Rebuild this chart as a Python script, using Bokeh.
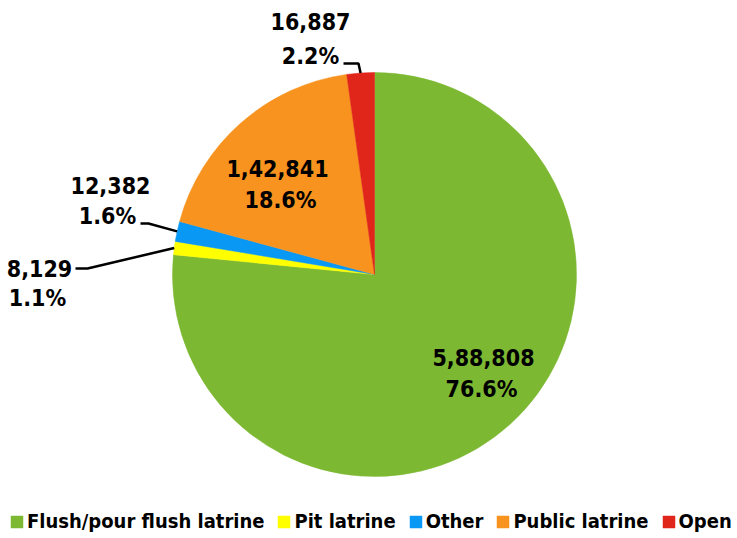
import math
from bokeh.plotting import figure
from bokeh.models import Range1d, Legend, LegendItem, ColumnDataSource
from bokeh.core.properties import value
from bokeh.embed import file_html
from bokeh.resources import INLINE

# ---- data ----
categories = ["Flush/pour flush latrine", "Pit latrine", "Other", "Public latrine", "Open"]
counts = [588808, 8129, 12382, 142841, 16887]
count_labels = ["5,88,808", "8,129", "12,382", "1,42,841", "16,887"]
pct_labels = ["76.6%", "1.1%", "1.6%", "18.6%", "2.2%"]
colors = ["#7DB833", "#FFFF00", "#0A98F5", "#F7931E", "#E0251B"]

# ---- layout (page pixels; y_data = H - y_px) ----
W, H = 737, 538
CX, CY, R = 374, 274, 202
FONT = "DejaVu Sans Condensed, Liberation Sans, sans-serif"
LBL_SIZE = "23px"
LEG_SIZE = "20px"

def py(ypx):
    return H - ypx

# label centres (page px) for line1 / line2, and leader elbow/end for outside labels
label_pos = {
    0: ((483, 357), (481, 388), None),
    3: ((277, 168), (280, 199), None),
    1: ((39, 268), (37, 297), ((87, 268), (75, 268))),
    2: ((110, 185), (107, 215), ((148, 223), (140, 223))),
    4: ((310, 21), (310, 55), ((358, 63), (343, 63))),
}

p = figure(width=W, height=H, output_backend="svg", toolbar_location=None,
           x_range=Range1d(0, W), y_range=Range1d(0, H),
           min_border=0)
p.axis.visible = False
p.grid.visible = False
p.outline_line_color = None
p.background_fill_color = "white"

total = sum(counts)
starts, ends, mids = [], [], []
cum = 0.0
for c in counts:
    f0 = cum / total
    cum += c
    f1 = cum / total
    # clockwise from 12 o'clock
    starts.append(math.pi / 2 - 2 * math.pi * f1)
    ends.append(math.pi / 2 - 2 * math.pi * f0)
    mids.append(math.pi / 2 - 2 * math.pi * (f0 + f1) / 2)

src = ColumnDataSource(dict(cat=categories, start=starts, end=ends, color=colors))
wr = p.wedge(x=CX, y=py(CY), radius=R, start_angle="start", end_angle="end",
             direction="anticlock", fill_color="color", line_color="color",
             line_width=0.5, source=src)

# labels and leader lines
xs1, ys1, t1, xs2, ys2, t2 = [], [], [], [], [], []
lx, ly = [], []
for i in range(len(counts)):
    (a1, a2, lead) = label_pos[i]
    xs1.append(a1[0]); ys1.append(py(a1[1])); t1.append(count_labels[i])
    xs2.append(a2[0]); ys2.append(py(a2[1])); t2.append(pct_labels[i])
    if lead is not None:
        ex = CX + R * math.cos(mids[i])
        ey = py(CY) + R * math.sin(mids[i])
        (elx, ely), (enx, eny) = lead
        lx.append([ex, elx, enx]); ly.append([ey, py(ely), py(eny)])

p.multi_line(xs=lx, ys=ly, line_color="black", line_width=2.5)
for xs, ys, tt in ((xs1, ys1, t1), (xs2, ys2, t2)):
    p.text(x=xs, y=ys, text=tt, text_font=value(FONT), text_font_style="bold",
           text_font_size=LBL_SIZE, text_align="center", text_baseline="middle",
           text_color="black")

items = [LegendItem(label=categories[i], renderers=[wr], index=i) for i in range(len(categories))]
legend = Legend(items=items, orientation="horizontal", location=(9, 5),
                glyph_width=15, glyph_height=15, label_standoff=3, spacing=12,
                padding=0, margin=0, border_line_color=None, background_fill_alpha=0,
                label_text_font=FONT, label_text_font_style="bold",
                label_text_font_size=LEG_SIZE, label_text_color="black",
                label_height=18)
p.add_layout(legend)

open("out.html", "w").write(file_html(p, INLINE))
